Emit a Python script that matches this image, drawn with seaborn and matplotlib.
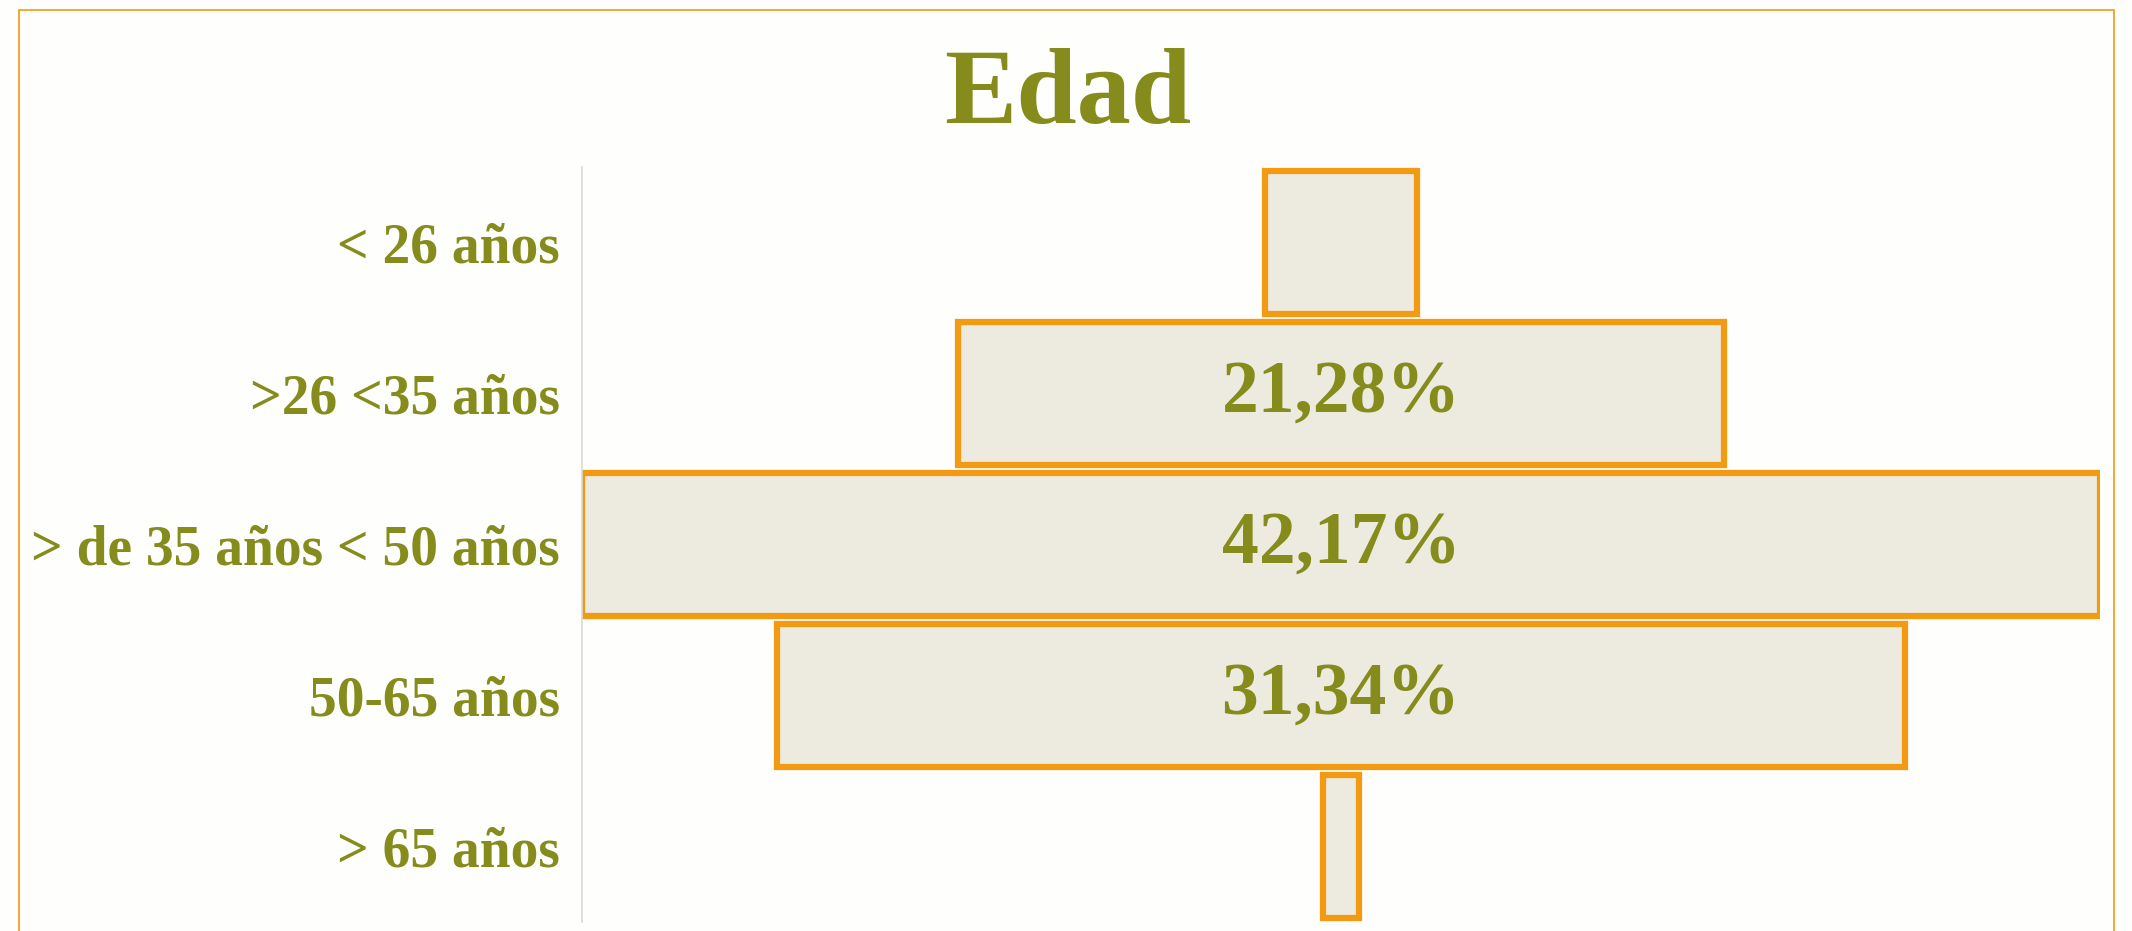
import matplotlib
matplotlib.use("Agg")
import matplotlib.pyplot as plt
from matplotlib.patches import Rectangle
import seaborn as sns

# datos del embudo
categorias = ["< 26 años", ">26 <35 años", "> de 35 años < 50 años", "50-65 años", "> 65 años"]
porcentajes = [4.22, 21.28, 42.17, 31.34, 0.99]
titulo = "Edad"

verde = "#858C1B"
naranja = "#F29A12"
relleno = "#EDEBE0"
fondo = "#FEFEFD"

sns.set_theme(style="white")
plt.rcParams['font.family'] = ['Liberation Serif', 'DejaVu Serif']

fig = plt.figure(figsize=(21.32, 9.31), dpi=100, facecolor=fondo)
ax = fig.add_axes([582/2132, 9/931, (2100-582)/2132, 755/931])
ax.set_facecolor(fondo)

sns.barplot(x=porcentajes, y=categorias, orient="h", color=relleno,
            edgecolor=naranja, linewidth=4.5, width=0.95, saturation=1, ax=ax)

# centrar las barras (embudo)
maximo = max(porcentajes)
for p in ax.patches:
    w = p.get_width()
    p.set_x(maximo/2 - w/2)
    p.set_facecolor(relleno)

ax.set_xlim(0, maximo)
ax.set_ylim(4.5, -0.5)

for i, v in enumerate(porcentajes):
    if v > 10:
        ax.text(maximo/2, i, f"{v:.2f}%".replace(".", ","), ha="center", va="center",
                fontsize=53, fontweight="bold", color=verde)

ax.set_xlabel("")
ax.set_ylabel("")
ax.set_xticks([])
ax.tick_params(axis="y", length=0, pad=16)
for lab in ax.get_yticklabels():
    lab.set_fontsize(40)
    lab.set_fontweight("bold")
    lab.set_color(verde)
for s in ["top", "right", "bottom"]:
    ax.spines[s].set_visible(False)
ax.spines["left"].set_color("#D9D9D9")
ax.spines["left"].set_linewidth(1.2)

fig.text(0.501, 0.896, titulo, ha="center", va="center", fontsize=78,
         fontweight="bold", color=verde)

# marco naranja
fig.patches.append(Rectangle((19/2132, -0.05), (2114-19)/2132, 1.05 - 10/931,
                             transform=fig.transFigure, fill=False,
                             edgecolor=naranja, linewidth=1.2))

fig.savefig("out.png", dpi=100, facecolor=fondo)
